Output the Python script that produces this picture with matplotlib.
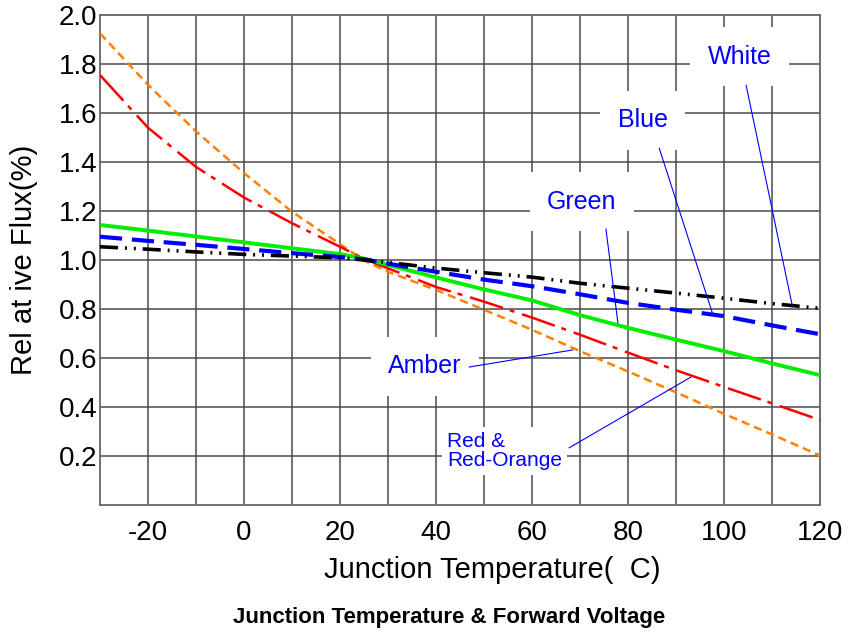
import numpy as np
import matplotlib
matplotlib.use('Agg')
import matplotlib.pyplot as plt

plt.rcParams['font.family'] = ['Liberation Sans', 'DejaVu Sans']
plt.rcParams['lines.scale_dashes'] = False
plt.rcParams['axes.unicode_minus'] = False

# junction temperature (C)
temps = [-30, -20, -10, 0, 10, 20, 25, 30, 40, 50, 60, 70, 80, 90, 100, 110, 120]

# relative flux per LED colour
white = [1.054, 1.044, 1.033, 1.023, 1.016, 1.009, 1.0, 0.99, 0.967, 0.948, 0.93, 0.905, 0.885, 0.865, 0.844, 0.822, 0.803]
blue = [1.095, 1.078, 1.062, 1.045, 1.028, 1.012, 1.003, 0.985, 0.952, 0.92, 0.893, 0.86, 0.825, 0.797, 0.771, 0.733, 0.697]
green = [1.143, 1.12, 1.096, 1.072, 1.048, 1.024, 1.006, 0.98, 0.929, 0.88, 0.835, 0.775, 0.723, 0.675, 0.628, 0.578, 0.53]
red = [1.755, 1.54, 1.38, 1.255, 1.15, 1.054, 1.005, 0.966, 0.89, 0.83, 0.765, 0.695, 0.622, 0.55, 0.482, 0.415, 0.347]
amber = [1.925, 1.715, 1.525, 1.355, 1.197, 1.065, 0.998, 0.952, 0.878, 0.797, 0.715, 0.628, 0.545, 0.46, 0.372, 0.288, 0.202]

xtick_major = [-20, 0, 20, 40, 60, 80, 100, 120]
xtick_minor = [-10, 10, 30, 50, 70, 90, 110]
ytick_vals = [0.2, 0.4, 0.6, 0.8, 1.0, 1.2, 1.4, 1.6, 1.8, 2.0]

# label text, text position, pointer start, pointer end
labels = ['White', 'Blue', 'Green', 'Amber', 'Red &\nRed-Orange']
label_pos = [(103.3, 1.829), (83.1, 1.571), (70.4, 1.237), (37.7, 0.567), (42.3, 0.22)]
ptr_start = [(104.6, 1.714), (86.5, 1.457), (75.4, 1.127), (46.9, 0.563), (67.7, 0.233)]
ptr_end = [(114.2, 0.816), (97.7, 0.776), (77.9, 0.743), (68.5, 0.633), (93.1, 0.522)]

fig = plt.figure(figsize=(8.52, 6.33), dpi=100)
ax = fig.add_axes([100/852, 1-505/633, 720/852, 490/633])

ax.plot(temps, amber, color='#ff8000', lw=1.8, ls=(0, (6, 3.6)), zorder=3)
ax.plot(temps, red, color='#ff0000', lw=1.8, ls=(0, (25, 5, 3.6, 5.8)), zorder=3)
ax.plot(temps, green, color='#00ee00', lw=2.8, ls='-', zorder=3)
ax.plot(temps, blue, color='#0000ff', lw=3.0, ls=(0, (16, 7)), zorder=3)
ax.plot(temps, white, color='black', lw=2.6, ls=(0, (13, 5, 1.4, 5, 1.4, 5)), zorder=3)

ax.set_xlim(-30, 120)
ax.set_ylim(0, 2.0)
ax.set_xticks(xtick_major)
ax.set_xticks(xtick_minor, minor=True)
ax.set_yticks(ytick_vals)
ax.set_yticklabels(['%.1f' % v for v in ytick_vals])
ax.tick_params(which='both', length=0)
ax.tick_params(axis='x', labelsize=20, pad=11)
ax.tick_params(axis='y', labelsize=20, pad=2)
ax.grid(True, which='both', color='#4a4a4a', lw=1.1)
ax.set_axisbelow(True)
for sp in ax.spines.values():
    sp.set_color('#707070')
    sp.set_linewidth(1.4)

for i, txt in enumerate(labels):
    if i == 4:
        ax.text(label_pos[i][0], label_pos[i][1], txt, color='#0000ff', fontsize=15,
                ha='left', va='center', linespacing=1.0, zorder=4,
                bbox=dict(boxstyle='square,pad=0.25', fc='white', ec='none'))
    else:
        ax.text(label_pos[i][0], label_pos[i][1], txt, color='#0000ff', fontsize=18,
                ha='center', va='center', zorder=4,
                bbox=dict(boxstyle='square,pad=0.7', fc='white', ec='none'))
    ax.annotate('', xy=ptr_end[i], xytext=ptr_start[i],
                arrowprops=dict(arrowstyle='-', color='#0000ff', lw=0.8,
                                shrinkA=0, shrinkB=0), zorder=5)

fig.text(492/852, 1-578/633, 'Junction Temperature(  C)', fontsize=21,
         ha='center', va='baseline')
fig.text(24/852, 1-260/633, 'Rel at ive Flux(%)', fontsize=21, rotation=90,
         ha='center', va='center')
fig.text(449/852, 1-618/633, 'Junction Temperature & Forward Voltage', fontsize=16,
         fontweight='bold', ha='center', va='center')

fig.savefig('out.png', dpi=100)
